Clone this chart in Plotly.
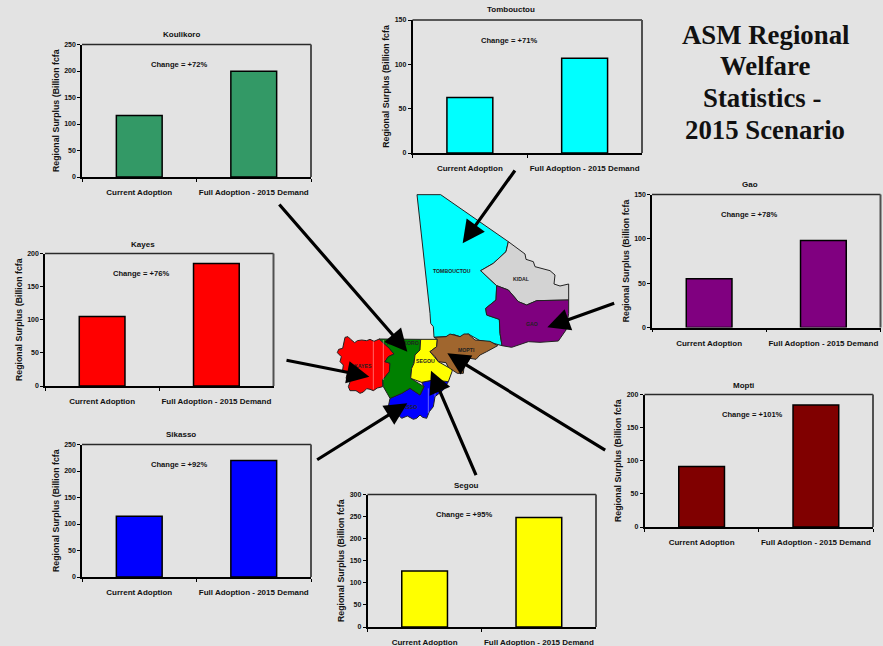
import plotly.graph_objects as go

WIDTH, HEIGHT = 883, 646
BACKGROUND = "#e3e3e3"
SANS = "Liberation Sans"

# Regional surplus values, billion fcfa
regions = ["Koulikoro", "Tombouctou", "Gao", "Mopti", "Kayes", "Sikasso", "Segou"]
current_adoption = [116, 62.5, 55, 91.5, 105, 114.5, 127]
full_adoption = [199.5, 107, 98, 184, 185, 220, 248]
change_labels = ["+72%", "+71%", "+78%", "+101%", "+76%", "+92%", "+95%"]
categories = ["Current Adoption", "Full Adoption - 2015 Demand"]
bar_colors = ["#339966", "#00ffff", "#800080", "#800000", "#ff0000", "#0000ff", "#ffff00"]
y_maxima = [250, 150, 150, 200, 200, 250, 300]
y_steps = [50, 50, 50, 50, 50, 50, 50]

# Panel frames on the page: left, right, top, bottom
panel_frames = [
    (82, 311, 44.5, 177),
    (412.5, 642, 20, 153),
    (652, 880.5, 194.5, 327.5),
    (644.5, 873, 394.5, 527),
    (45, 273.5, 253.5, 386),
    (82, 311, 444.5, 577),
    (367.5, 596, 494.5, 627),
]
title_anchors = [(181, 35), (511, 10), (750, 185), (743, 385), (143, 244.5), (181, 434), (466, 485)]
change_anchors = [(179, 64), (509, 40), (749, 214), (752, 414), (141, 273), (179, 464), (464, 514)]

# Region outlines in map units
map_shapes = {
    "TOMBOUCTOU": ("#00ffff",
        [291, 362, 565, 558, 520, 482, 530, 528, 497, 500, 538, 540, 546, 510, 480, 445, 420, 400, 378, 342, 340, 332, 330, 310],
        [44, 44, 185, 215, 250, 272, 317, 360, 385, 405, 418, 460, 497, 487, 482, 462, 470, 463, 470, 472, 440, 430, 400, 220]),
    "KIDAL": ("#d3d3d3",
        [565, 615, 618, 640, 645, 665, 690, 705, 702, 720, 746, 746, 650, 620, 595, 565, 530, 482, 520, 558],
        [185, 222, 238, 245, 260, 265, 272, 285, 312, 318, 312, 360, 362, 375, 365, 330, 317, 272, 250, 215]),
    "GAO": ("#7f007f",
        [530, 565, 595, 620, 650, 746, 746, 738, 715, 660, 625, 575, 546, 540, 538, 500, 497, 528],
        [317, 330, 365, 375, 362, 360, 400, 450, 483, 487, 485, 502, 497, 460, 418, 405, 385, 360]),
    "KAYES": ("#ff0000",
        [75, 84, 92, 104, 112, 125, 140, 150, 162, 172, 178, 208, 222, 205, 195, 210, 208, 188, 188, 172, 160, 150, 140, 130, 120, 108, 90, 85, 90, 78, 82, 68, 70, 60, 64, 52, 56, 68],
        [472, 470, 478, 488, 482, 480, 482, 478, 484, 480, 477, 505, 522, 530, 545, 550, 575, 600, 620, 624, 632, 628, 626, 636, 640, 632, 632, 620, 606, 595, 580, 570, 555, 545, 530, 518, 508, 505]),
    "SIKASSO": ("#0000ff",
        [210, 245, 270, 300, 312, 305, 340, 385, 370, 345, 340, 328, 320, 308, 300, 290, 280, 262, 245, 235, 225, 205],
        [655, 640, 625, 645, 620, 607, 600, 605, 630, 650, 680, 695, 715, 712, 705, 715, 718, 708, 715, 705, 690, 680]),
    "KOULIKORO": ("#008000",
        [178, 302, 300, 285, 282, 275, 272, 312, 300, 270, 245, 210, 190, 188, 208, 210, 195, 205, 222, 208],
        [477, 478, 510, 525, 550, 565, 595, 620, 645, 625, 640, 655, 620, 600, 575, 550, 545, 530, 522, 505]),
    "SEGOU": ("#ffff00",
        [302, 352, 350, 330, 355, 385, 398, 396, 385, 340, 305, 272, 275, 282, 285, 300],
        [478, 478, 500, 515, 545, 562, 558, 575, 605, 600, 607, 595, 565, 550, 525, 510]),
    "MOPTI": ("#a0662e",
        [342, 378, 390, 400, 420, 432, 445, 465, 480, 510, 533, 515, 500, 480, 468, 450, 440, 432, 430, 412, 398, 385, 378, 355, 345, 330, 350, 352],
        [472, 470, 462, 465, 470, 462, 462, 480, 482, 484, 497, 508, 515, 525, 538, 535, 552, 560, 580, 580, 570, 562, 548, 545, 530, 515, 500, 478]),
}
map_label_x = [395, 603, 637, 128, 255, 248, 316, 440]
map_label_y = [273, 297, 432, 558, 680, 488, 543, 510]

# Faint vertical seams inside the two southern regions: x, top y, bottom y
map_seams = [(160, 484, 628), (190, 480, 600), (325, 625, 700), (345, 612, 650)]

# Arrows from each panel to its region: tail x, tail y, tip x, tip y
arrow_paths = [
    (-126, 69, 262, 515),
    (588, -33, 428, 190),
    (887, 368, 682, 442),
    (860, 813, 382, 520),
    (-105, 540, 148, 590),
    (-13, 842, 262, 670),
    (470, 890, 333, 572),
]

# Headline, one entry per line: text, centre x, middle y
headline = [
    ("ASM Regional", 765, 35),
    ("Welfare", 765, 66.5),
    ("Statistics -", 761.5, 98),
    ("2015 Scenario", 765, 130),
]


def page_x(px):
    return px / WIDTH


def page_y(py):
    return 1 - py / HEIGHT


fig = go.Figure()
annotations = []
shapes = []
layout_axes = {}

# One bar panel per region
for i, region in enumerate(regions):
    n = i + 1
    suffix = "" if n == 1 else str(n)
    left, right, top, bottom = panel_frames[i]
    fig.add_trace(go.Bar(
        x=categories,
        y=[current_adoption[i], full_adoption[i]],
        marker=dict(color=bar_colors[i], line=dict(color="black", width=1.5)),
        xaxis=f"x{suffix}",
        yaxis=f"y{suffix}",
        name=region,
        showlegend=False,
        width=0.4,
    ))
    layout_axes[f"xaxis{suffix}"] = dict(
        domain=[page_x(left), page_x(right)],
        anchor=f"y{suffix}",
        type="category",
        tickson="boundaries",
        tickangle=0,
        ticks="outside",
        ticklen=3,
        tickwidth=1,
        tickcolor="black",
        ticklabelstandoff=7,
        showline=True,
        linecolor="black",
        linewidth=1.5,
        showgrid=False,
        automargin=False,
        tickfont=dict(family=SANS, size=8, color="#111", weight=700),
    )
    layout_axes[f"yaxis{suffix}"] = dict(
        domain=[page_y(bottom), page_y(top)],
        anchor=f"x{suffix}",
        range=[0, y_maxima[i]],
        dtick=y_steps[i],
        ticks="outside",
        ticklen=3,
        tickwidth=1,
        tickcolor="black",
        showline=True,
        linecolor="black",
        linewidth=1.5,
        showgrid=False,
        zeroline=False,
        automargin=False,
        tickfont=dict(family=SANS, size=7, color="#111", weight=700),
        title=dict(
            text="Regional Surplus (Billion fcfa",
            font=dict(family=SANS, size=8.8, color="#111", weight=700),
            standoff=3.5,
        ),
    )
    # Top edge is dark, right edge a heavier grey
    shapes.append(dict(type="line", xref=f"x{suffix} domain", yref=f"y{suffix} domain",
                       x0=0, x1=1, y0=1, y1=1, line=dict(color="#2a2a2a", width=1.5)))
    shapes.append(dict(type="line", xref=f"x{suffix} domain", yref=f"y{suffix} domain",
                       x0=1, x1=1, y0=0, y1=1, line=dict(color="#505050", width=2)))
    tx, ty = title_anchors[i]
    annotations.append(dict(
        text=region, x=page_x(tx), y=page_y(ty), xref="paper", yref="paper",
        xanchor="center", yanchor="middle",
        showarrow=False, font=dict(family=SANS, size=8, color="#111", weight=700),
    ))
    cx, cy = change_anchors[i]
    annotations.append(dict(
        text=f"Change = {change_labels[i]}", x=page_x(cx), y=page_y(cy), xref="paper", yref="paper",
        xanchor="center", yanchor="middle",
        showarrow=False, font=dict(family=SANS, size=7.6, color="#111", weight=700),
    ))

# Map of the regions on a full-page axis pair
for name, (color, xs, ys) in map_shapes.items():
    fig.add_trace(go.Scatter(
        x=xs + xs[:1],
        y=ys + ys[:1],
        mode="lines",
        fill="toself",
        fillcolor=color,
        line=dict(color="#222222", width=1),
        xaxis="x8",
        yaxis="y8",
        name=name,
        showlegend=False,
    ))

for seam_x, seam_top, seam_bottom in map_seams:
    fig.add_trace(go.Scatter(
        x=[seam_x, seam_x],
        y=[seam_top, seam_bottom],
        mode="lines",
        line=dict(color="rgba(255,255,255,0.4)", width=1),
        xaxis="x8",
        yaxis="y8",
        showlegend=False,
    ))

layout_axes["xaxis8"] = dict(domain=[0, 1], anchor="y8", range=[-960, 1689], visible=False)
layout_axes["yaxis8"] = dict(domain=[0, 1], anchor="x8", range=[1398, -540], visible=False)

for name, lx, ly in zip(map_shapes, map_label_x, map_label_y):
    annotations.append(dict(
        text=name, x=lx, y=ly, xref="x8", yref="y8", showarrow=False,
        xanchor="center", yanchor="middle",
        font=dict(family=SANS, size=5.2, color="#222", weight=700),
    ))

for tail_x, tail_y, tip_x, tip_y in arrow_paths:
    annotations.append(dict(
        x=tip_x, y=tip_y, ax=tail_x, ay=tail_y,
        xref="x8", yref="y8", axref="x8", ayref="y8",
        text="", showarrow=True, arrowhead=2, arrowsize=1.4, arrowwidth=3.2, arrowcolor="black",
    ))

for text, hx, hy in headline:
    annotations.append(dict(
        text=text, x=page_x(hx), y=page_y(hy), xref="paper", yref="paper",
        xanchor="center", yanchor="middle",
        showarrow=False, font=dict(family="Liberation Serif", size=26.8, color="#111", weight=700),
    ))

fig.update_layout(
    width=WIDTH,
    height=HEIGHT,
    margin=dict(l=0, r=0, t=0, b=0),
    paper_bgcolor=BACKGROUND,
    plot_bgcolor="rgba(0,0,0,0)",
    showlegend=False,
    annotations=annotations,
    shapes=shapes,
    **layout_axes,
)

fig.write_html("out.html")
